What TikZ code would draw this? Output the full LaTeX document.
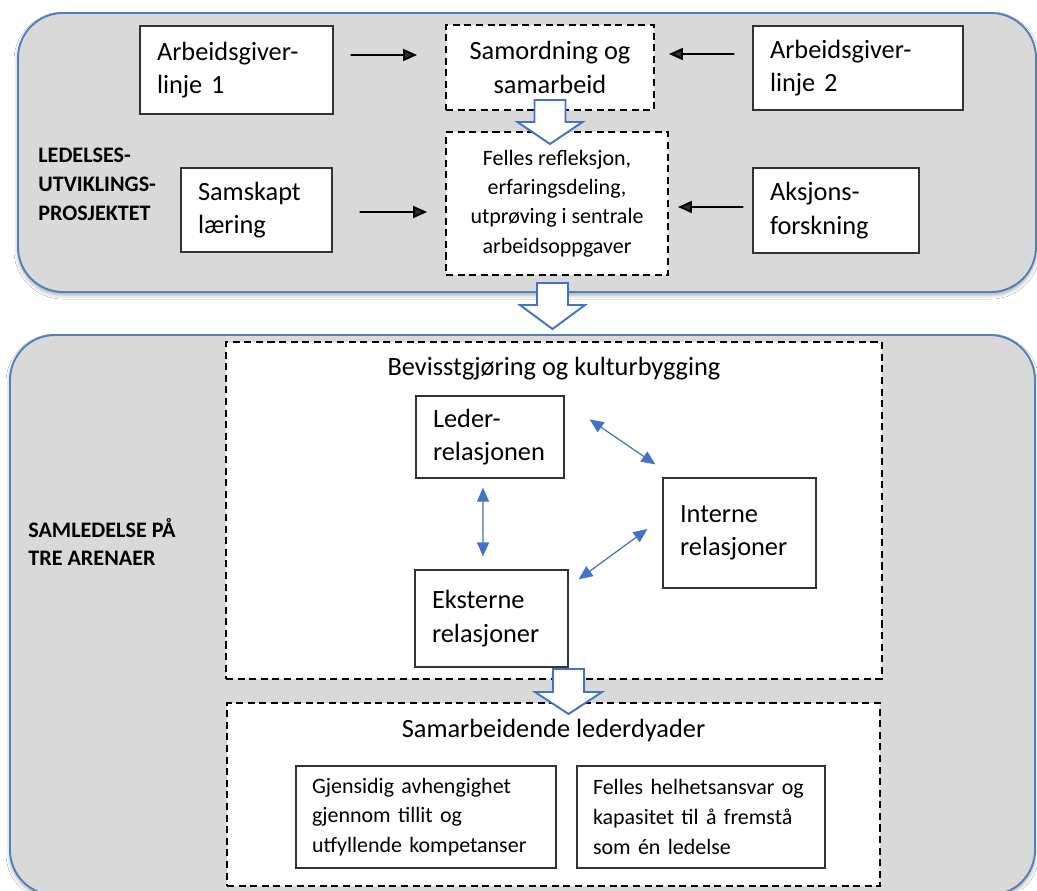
\documentclass[tikz,border=0pt]{standalone}
\usepackage{fontspec}
\setmainfont{Carlito}
\usetikzlibrary{arrows.meta, positioning, shadows.blur}
\definecolor{panelgray}{RGB}{217,217,217}
\definecolor{panelblue}{RGB}{79,129,189}
\definecolor{relblue}{RGB}{68,114,196}

\begin{document}
\begin{tikzpicture}[
    x=0.02cm, y=-0.02cm,
    panel/.style={draw=panelblue, line width=1.1pt, fill=panelgray, rounded corners=0.9cm,
      blur shadow={shadow xshift=0pt, shadow yshift=-0.06cm, shadow blur radius=0.08cm, shadow opacity=35}},
    box/.style={draw=black!80, line width=0.7pt, fill=white, align=left, inner xsep=0.34cm, font=\fontsize{15}{19}\selectfont},
    smallbox/.style={box, inner xsep=0.32cm, font=\fontsize{12.5}{17}\selectfont},
    dbox/.style={draw, dash pattern=on 4pt off 2.6pt, line width=1.1pt, fill=white, align=center},
    heading/.style={font=\bfseries\fontsize{12.6}{16.4}\selectfont, align=left, anchor=west, inner xsep=0pt},
    title/.style={font=\fontsize{15}{19}\selectfont},
    arrow/.style={-{Triangle[length=0.28cm, width=0.24cm]}, line width=1.1pt},
    relarrow/.style={{Triangle[length=0.28cm, width=0.24cm]}-{Triangle[length=0.28cm, width=0.24cm]}, draw=relblue, line width=0.7pt},
    bigarrow/.style={draw=relblue, line width=1.1pt, fill=white, line join=miter}
  ]
  \useasboundingbox (0,0) rectangle (1037,890);
  \fill[white] (0,0) rectangle (1037,890);

  % Rammer
  \draw[panel] (18,13) rectangle (1036,292);
  \draw[panel] (10,335) rectangle (1035,895);

  % Ledelsesutviklingsprosjektet
  \node[heading] (ledelse) at (38,184) {LEDELSES-\\UTVIKLINGS-\\PROSJEKTET};
  \node[box, text width=3.18cm, minimum height=1.76cm] (linje1) at (236.5,70) {Arbeidsgiver-\\linje 1};
  \node[dbox, title, minimum width=4.16cm, minimum height=1.7cm] (samordning) at (550,67.5) {Samordning og\\samarbeid};
  \node[box, text width=3.52cm, minimum height=1.68cm] (linje2) at (858,68) {Arbeidsgiver-\\linje 2};
  \node[dbox, font=\fontsize{12.5}{16.7}\selectfont, minimum width=4.44cm, minimum height=2.86cm] (felles) at (557,203.5) {Felles refleksjon,\\erfaringsdeling,\\utprøving i sentrale\\arbeidsoppgaver};
  \node[box, text width=2.34cm, minimum height=1.68cm] (samskapt) at (256.5,210) {Samskapt\\læring};
  \node[box, text width=2.64cm, minimum height=1.7cm] (aksjon) at (836,210.5) {Aksjons-\\forskning};

  \draw[arrow, shorten <=0.34cm, shorten >=0.56cm] ([yshift=0.3cm]linje1.east) -- ([yshift=0.25cm]samordning.west);
  \draw[arrow, shorten <=0.36cm, shorten >=0.28cm] ([yshift=0.28cm]linje2.west) -- ([yshift=0.27cm]samordning.east);
  \draw[arrow, shorten <=0.54cm, shorten >=0.36cm] ([yshift=-0.04cm]samskapt.east) -- ([yshift=-0.17cm]felles.west);
  \draw[arrow, shorten <=0.18cm, shorten >=0.18cm] ([yshift=0.07cm]aksjon.west) -- ([yshift=-0.07cm]felles.east);

  % Samledelse
  \node[heading] (samledelse) at (28,542) {SAMLEDELSE PÅ\\TRE ARENAER};
  \node[dbox, minimum width=13.12cm, minimum height=6.74cm] (bevisst) at (554,510.5) {};
  \node[title] (bevisst-tittel) at ([yshift=-0.56cm]bevisst.north) {Bevisstgjøring og kulturbygging};
  \node[box, text width=2.28cm, minimum height=1.64cm] (leder) at (490,437) {Leder-\\relasjonen};
  \node[box, text width=2.38cm, minimum height=1.94cm] (eksterne) at (491.5,618.5) {Eksterne\\relasjoner};
  \node[box, text width=2.38cm, minimum height=2.2cm] (interne) at (739.5,533) {Interne\\relasjoner\par\vspace{0.44cm}};

  \draw[relarrow, shorten <=0.18cm, shorten >=0.26cm] ([xshift=-0.14cm]leder.south) -- ([xshift=-0.17cm]eksterne.north);
  \draw[relarrow] ([shift={(0.5cm,-0.48cm)}]leder.north east) -- ([shift={(-0.14cm,0.26cm)}]interne.north west);
  \draw[relarrow] ([shift={(0.2cm,-0.2cm)}]eksterne.north east) -- ([shift={(-0.3cm,0.08cm)}]interne.west);

  \node[dbox, minimum width=13.06cm, minimum height=3.66cm] (dyader) at (553.5,794.5) {};
  \node[title] (dyader-tittel) at ([yshift=-0.56cm]dyader.north) {Samarbeidende lederdyader};
  \node[smallbox, text width=4.56cm, minimum height=2.04cm] (gjensidig) at (426,817) {Gjensidig avhengighet\\gjennom tillit og\\utfyllende kompetanser};
  \node[smallbox, text width=4.32cm, minimum height=2.04cm] (helhet) at (701,817) {Felles helhetsansvar og\\kapasitet til å fremstå\\som én ledelse};

  % Blokkpiler
  \draw[bigarrow] (534.5,100) -- (565.5,100) -- (565.5,122) -- (582.5,122) -- (550,144) -- (517.5,122) -- (534.5,122) -- cycle;
  \draw[bigarrow] (537,283) -- (568,283) -- (568,305) -- (585,305) -- (552.5,329) -- (520,305) -- (537,305) -- cycle;
  \draw[bigarrow] (553,669) -- (584,669) -- (584,692) -- (602,692) -- (568.5,714) -- (535,692) -- (553,692) -- cycle;

\end{tikzpicture}
\end{document}
